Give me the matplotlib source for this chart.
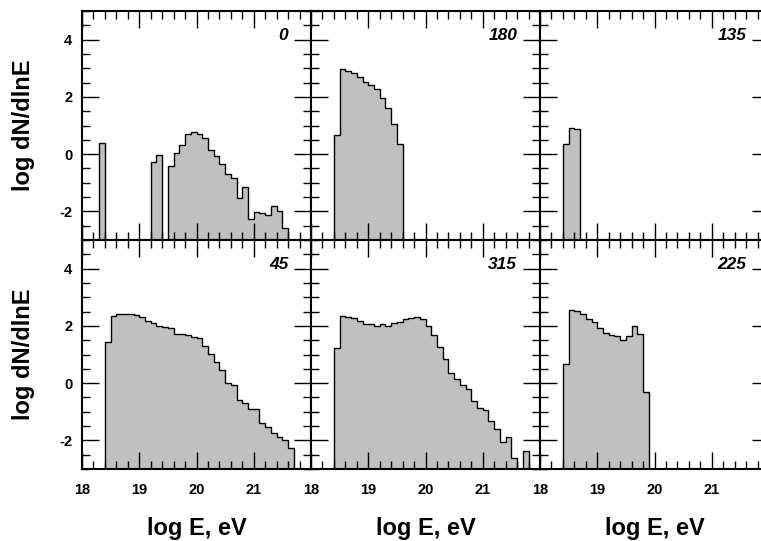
"""
Energy spectra (log dN/dlnE vs log E) for six arrival directions,
drawn as filled step histograms on a 2x3 grid of panels.
"""

import numpy as np
import matplotlib
matplotlib.use("Agg")
import matplotlib.pyplot as plt
from matplotlib.ticker import MultipleLocator

# Constants
BIN_WIDTH = 0.1
X_RANGE = (18, 22)
Y_RANGE = (-3, 5)
FILL = "#c0c0c0"
NaN = np.nan

# Panel names (direction, degrees), in grid order
PANELS = ["0", "180", "135", "45", "315", "225"]

# First bin edge (log E) for each panel
START_0 = 18.3
START_180 = 18.4
START_135 = 18.4
START_45 = 18.4
START_315 = 18.4
START_225 = 18.4

# log dN/dlnE per 0.1 bin, NaN = empty bin
SPEC_0 = [0.38, NaN, NaN, NaN, NaN, NaN, NaN, NaN, NaN,
          -0.26, -0.02, NaN,
          -0.43, 0.03, 0.32, 0.71, 0.77, 0.70, 0.56, 0.13, -0.08, -0.35,
          -0.70, -0.85, -1.52, -1.16, -2.25, -2.02, -2.05, -2.11, -1.82,
          -1.97, -2.59]
SPEC_180 = [0.67, 2.99, 2.91, 2.82, 2.70, 2.53, 2.41, 2.26, 1.95, 1.60,
            1.06, 0.35]
SPEC_135 = [0.36, 0.93, 0.87]
SPEC_45 = [1.45, 2.33, 2.41, 2.42, 2.41, 2.38, 2.30, 2.17, 2.10, 2.00,
           1.95, 1.93, 1.73, 1.71, 1.68, 1.62, 1.57, 1.31, 1.02, 0.73,
           0.46, 0.01, -0.08, -0.58, -0.68, -0.89, -0.90, -1.38, -1.52,
           -1.73, -1.89, -1.97, -2.28]
SPEC_315 = [1.24, 2.35, 2.30, 2.26, 2.18, 2.06, 2.06, 2.01, 2.06, 2.00,
            2.10, 2.15, 2.24, 2.27, 2.32, 2.24, 2.01, 1.68, 1.25, 0.85,
            0.36, 0.13, -0.08, -0.22, -0.64, -0.87, -0.95, -1.32, -1.59,
            -2.05, -1.88, -2.61, NaN, -2.38]
SPEC_225 = [0.68, 2.56, 2.52, 2.40, 2.24, 2.15, 1.91, 1.76, 1.68, 1.66,
            1.51, 1.64, 2.01, 1.71, -0.31]

STARTS = [START_0, START_180, START_135, START_45, START_315, START_225]
SPECS = [SPEC_0, SPEC_180, SPEC_135, SPEC_45, SPEC_315, SPEC_225]

plt.rcParams["font.family"] = ["Liberation Sans", "DejaVu Sans"]
plt.rcParams["font.weight"] = "bold"
plt.rcParams["axes.unicode_minus"] = False

W, H = 761, 541
COL_X = [82, 311, 540]
ROW_TOP = [11, 240]
PANEL_W, PANEL_H = 229, 229


def draw_panel(ax, name, start, spec, bottom_row, left_col):
    spec = np.array(spec, dtype=float)
    edges = start + BIN_WIDTH * np.arange(len(spec) + 1)
    floor = Y_RANGE[0] - 5
    vals = np.where(np.isnan(spec), floor, spec)
    ax.stairs(vals, edges, baseline=floor, fill=True,
              facecolor=FILL, edgecolor="black", linewidth=1.0)

    ax.set_xlim(*X_RANGE)
    ax.set_ylim(*Y_RANGE)
    ax.set_xticks([18, 19, 20, 21, 22])
    ax.xaxis.set_minor_locator(MultipleLocator(0.2))
    ax.set_yticks([-2, 0, 2, 4])
    ax.yaxis.set_minor_locator(MultipleLocator(0.5))
    ax.tick_params(which="both", direction="in", top=True, right=True,
                   width=1.0, color="black")
    ax.tick_params(which="major", length=12)
    ax.tick_params(which="minor", length=6)
    ax.tick_params(axis="x", pad=10, labelsize=10.5)
    ax.tick_params(axis="y", pad=7, labelsize=10.5)

    if bottom_row:
        ax.set_xticklabels(["18", "19", "20", "21", ""])
    else:
        ax.set_xticklabels([])
    if not left_col:
        ax.set_yticklabels([])

    for sp in ax.spines.values():
        sp.set_linewidth(1.5)

    ax.text(0.90, 0.893, name, transform=ax.transAxes, ha="right",
            va="center", fontsize=12.5, fontweight="bold", style="italic")


def main():
    fig = plt.figure(figsize=(W / 100, H / 100), dpi=100)

    for i, (name, start, spec) in enumerate(zip(PANELS, STARTS, SPECS)):
        row, col = divmod(i, 3)
        left = COL_X[col] / W
        bottom = 1 - (ROW_TOP[row] + PANEL_H) / H
        ax = fig.add_axes([left, bottom, PANEL_W / W, PANEL_H / H])
        draw_panel(ax, name, start, spec, row == 1, col == 0)

    # Axis titles
    for row in range(2):
        yc = 1 - (ROW_TOP[row] + PANEL_H / 2) / H
        fig.text(24 / W, yc, "log dN/dlnE", rotation=90, ha="center",
                 va="center", fontsize=17, fontweight="bold")
    for col in range(3):
        xc = (COL_X[col] + PANEL_W / 2) / W
        fig.text(xc, 1 - 528 / H, "log E, eV", ha="center", va="center",
                 fontsize=17, fontweight="bold")

    fig.savefig("out.png", dpi=100)


if __name__ == "__main__":
    main()
